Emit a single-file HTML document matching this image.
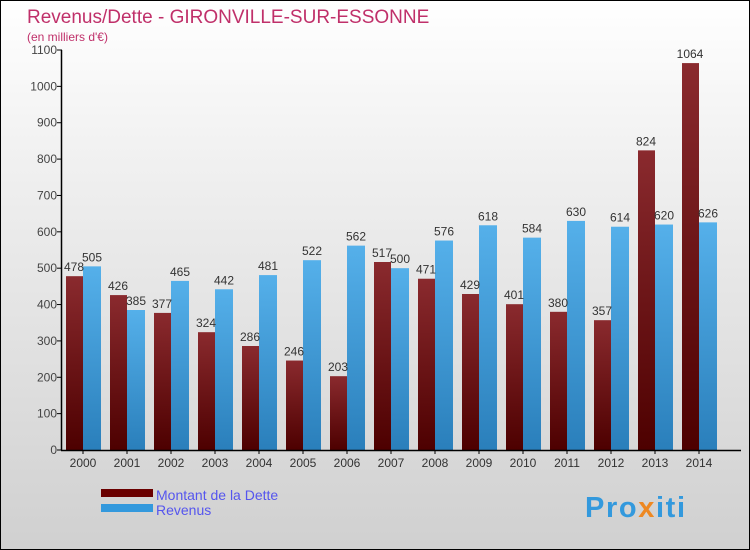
<!DOCTYPE html>
<html><head><meta charset="utf-8"><style>
body{margin:0}
#c{position:relative;width:748px;height:548px;border:1px solid #000;background:linear-gradient(#ffffff,#f0f0f0 30%,#d0d0d0);overflow:hidden;font-family:"Liberation Sans",sans-serif}
</style></head><body>
<div id="c">
<svg width="748" height="548" id="s">
<defs>
<linearGradient id="gd" x1="0" y1="0" x2="0" y2="1"><stop offset="0" stop-color="#8a2a2e"/><stop offset="1" stop-color="#4d0000"/></linearGradient>
<linearGradient id="gr" x1="0" y1="0" x2="0" y2="1"><stop offset="0" stop-color="#55b0ea"/><stop offset="1" stop-color="#2a7fbb"/></linearGradient>
</defs>
<text x="26" y="22" font-size="19" fill="#c0306a">Revenus/Dette - GIRONVILLE-SUR-ESSONNE</text>
<text x="26" y="40" font-size="12" fill="#c0306a">(en milliers d'€)</text>
<g id="g"></g>
<rect x="100" y="488" width="52" height="8" fill="#6a0000"/>
<rect x="100" y="503" width="52" height="8" fill="#3399dd"/>
<text x="155" y="499" font-size="14" fill="#5555ee">Montant de la Dette</text>
<text x="155" y="514" font-size="14" fill="#5555ee">Revenus</text>
<text x="584" y="516" font-size="29" font-weight="bold" fill="#3399dd" textLength="100">Pro<tspan fill="#ee8822">x</tspan>iti</text>
</svg></div>
<script>
const years=["2000","2001","2002","2003","2004","2005","2006","2007","2008","2009","2010","2011","2012","2013","2014"];
const dette=[478,426,377,324,286,246,203,517,471,429,401,380,357,824,1064];
const revenus=[505,385,465,442,481,522,562,500,576,618,584,630,614,620,626];
const ticks=[0,100,200,300,400,500,600,700,800,900,1000,1100];
const NS="http://www.w3.org/2000/svg",g=document.getElementById('g');
const y0=449,yMax=1100,h=400;
function Y(v){return y0-v/yMax*h;}
function X(i){return 82+i*44;}
function mk(t,a,txt){const e=document.createElementNS(NS,t);for(const k in a)e.setAttribute(k,a[k]);if(txt!=null)e.textContent=txt;g.appendChild(e);return e;}
years.forEach((yr,i)=>{
 let b=mk('rect',{x:X(i)-17,y:Y(dette[i]),width:17,height:y0-Y(dette[i]),fill:'url(#gd)'});
 
 
 let r=mk('rect',{x:X(i),y:Y(revenus[i]),width:18,height:y0-Y(revenus[i]),fill:'url(#gr)'});
 
 
 let l1=mk('text',{x:X(i)-9,y:Y(dette[i])-5,'font-size':12,fill:'#333','text-anchor':'middle'},dette[i]);
 
 
 let l2=mk('text',{x:X(i)+9,y:Y(revenus[i])-5,'font-size':12,fill:'#333','text-anchor':'middle'},revenus[i]);
 
 
 let xl=mk('text',{x:X(i),y:466,'font-size':12,fill:'#333','text-anchor':'middle'},yr);
 
 
 mk('line',{x1:X(i),x2:X(i),y1:y0,y2:y0+4,stroke:'#000'});
});
ticks.forEach(t=>{
 let tl=mk('text',{x:56,y:Y(t)+4,'font-size':12,fill:'#444','text-anchor':'end'},t);
 
 
 mk('line',{x1:56,x2:61,y1:Y(t),y2:Y(t),stroke:'#000'});
});
let ya=mk('line',{x1:60.5,x2:60.5,y1:Y(1100),y2:y0,stroke:'#000','stroke-width':1.5});


let xa=mk('line',{x1:60,x2:740,y1:y0+0.5,y2:y0+0.5,stroke:'#000','stroke-width':1.5});


</script>
</body></html>
